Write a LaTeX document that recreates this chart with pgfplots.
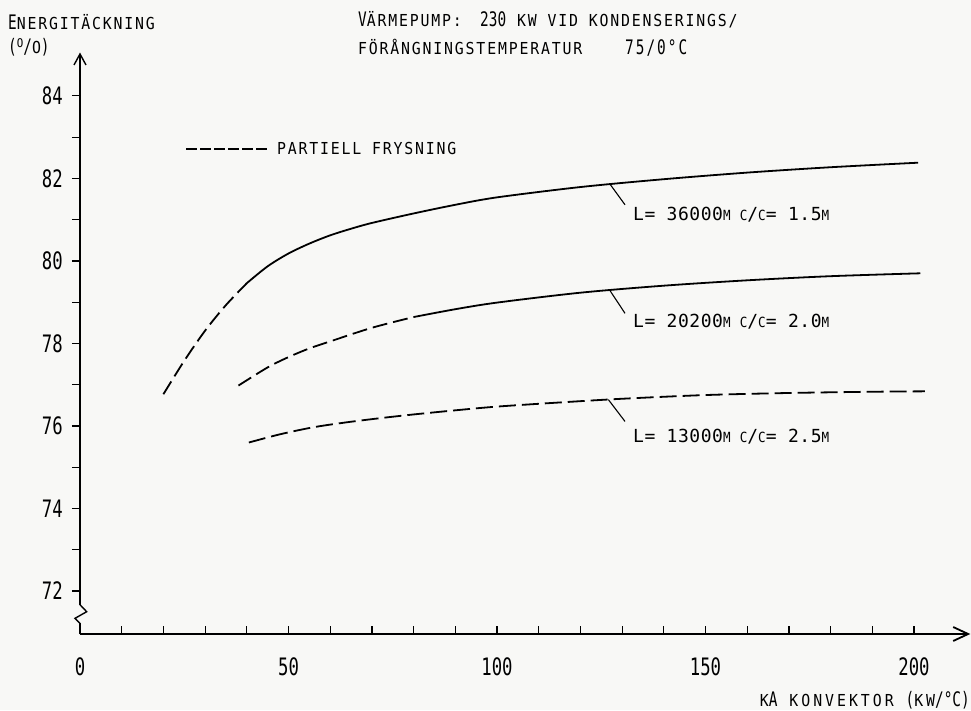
\documentclass[border=0pt]{standalone}
\usepackage{fontspec}
\usepackage{pgfplots}
\pgfplotsset{compat=1.18}
\usetikzlibrary{arrows.meta}
\setmainfont{DejaVu Sans Mono}
\newfontfamily\fA[FakeStretch=0.72]{DejaVu Sans Mono}
\newfontfamily\fS[FakeStretch=0.9,LetterSpace=11]{DejaVu Sans Mono}
\newfontfamily\fW[FakeStretch=0.9,LetterSpace=18]{DejaVu Sans Mono}
\newfontfamily\fL[LetterSpace=3]{DejaVu Sans Mono}
\newcommand\SM[1]{{\fS\fontsize{16.5}{17}\selectfont #1}}
\newcommand\SW[1]{{\fW\fontsize{16.5}{17}\selectfont #1}}
\newcommand\BG[1]{{\fA\fontsize{20}{21}\selectfont #1}}
\newcommand\BGS[1]{{\fA\addfontfeature{LetterSpace=10}\fontsize{20}{21}\selectfont #1}}
\newcommand\LB[1]{{\fL\fontsize{18}{19}\selectfont #1}}
\newcommand\LS[1]{{\fS\fontsize{14}{15}\selectfont #1}}
\definecolor{paper}{RGB}{248,248,246}
\begin{document}
\begin{tikzpicture}
\path[use as bounding box, fill=paper] (0pt,0pt) rectangle (971pt,710pt);
\begin{axis}[
  at={(80pt,76pt)}, anchor=south west,
  x=4.17pt, y=41.27pt,
  xmin=0, xmax=213.5, ymin=70.96, ymax=85.05,
  clip=false,
  axis x line=bottom, axis y line=left,
  x axis line style={line width=1.8pt, -{Straight Barb[length=15pt,width=14pt]}},
  y axis line style={line width=1.4pt, -{Straight Barb[length=11pt,width=12pt]}},
  xtick={0,50,100,150,200},
  minor xtick={10,20,30,40,60,70,80,90,110,120,130,140,160,170,180,190},
  ytick={72,74,76,78,80,82,84},
  minor ytick={73,75,77,79,81,83},
  xtick align=inside, ytick align=outside,
  major tick length=8pt, minor tick length=8pt,
  tick style={line width=1.2pt, black},
  /pgf/number format/assume math mode=true,
  tick label style={font=\fA\fontsize{24}{24}\selectfont},
  xticklabel style={inner sep=0pt, yshift=-23pt},
  yticklabel style={inner sep=0pt, xshift=-9pt},
  legend style={at={(axis cs:25.2,82.72)}, anchor=west, draw=none, fill=none,
    inner sep=0pt, legend cell align=left},
  legend image code/.code={\draw[#1] (0pt,0pt) -- (82pt,0pt);},
]
\addlegendimage{black, line width=1.9pt, dash pattern=on 11pt off 3pt}
\addlegendentry{\hspace{6pt}\SM{PARTIELL FRYSNING}}

% L = 36000 m, c/c = 1.5 m
\addplot[black, line width=1.8pt, dash pattern=on 15pt off 6pt, smooth] coordinates {
 (20,76.77) (25,77.58) (30,78.31) (35,78.93) (40,79.46)};
\addplot[black, line width=1.8pt, smooth] coordinates {
 (40,79.46) (45,79.87) (50,80.18) (55,80.42) (60,80.62) (65,80.78) (70,80.92)
 (80,81.15) (90,81.36) (100,81.54) (120,81.79) (140,81.98) (160,82.14)
 (180,82.27) (201,82.38)};

% L = 20200 m, c/c = 2.0 m
\addplot[black, line width=1.8pt, dash pattern=on 15pt off 6pt, smooth] coordinates {
 (38,76.98) (45,77.42) (50,77.67) (55,77.88) (60,78.05) (70,78.38) (80,78.64)};
\addplot[black, line width=1.8pt, smooth] coordinates {
 (80,78.64) (90,78.83) (100,78.99) (120,79.23) (140,79.40) (160,79.53)
 (180,79.63) (201.5,79.70)};

% L = 13000 m, c/c = 2.5 m
\addplot[black, line width=1.8pt, dash pattern=on 17pt off 6pt, smooth] coordinates {
 (40.5,75.60) (48,75.80) (56,75.97) (64,76.09) (72,76.19) (80,76.28)
 (90,76.38) (100,76.47) (115,76.57) (130,76.66) (150,76.75) (170,76.80)
 (190,76.83) (202.6,76.84)};

% leader lines
\draw[black, line width=1.1pt] (axis cs:127.1,81.86) -- (axis cs:130.7,81.36);
\draw[black, line width=1.1pt] (axis cs:127.1,79.28) -- (axis cs:130.7,78.73);
\draw[black, line width=1.1pt] (axis cs:126.7,76.64) -- (axis cs:130.7,76.11);

\node[anchor=west, inner sep=0pt] at (axis cs:132.6,81.12)
  {\LB{L= 36000}\LS{M C}\LB{/}\LS{C}\LB{= 1.5}\LS{M}};
\node[anchor=west, inner sep=0pt] at (axis cs:132.6,78.54)
  {\LB{L= 20200}\LS{M C}\LB{/}\LS{C}\LB{= 2.0}\LS{M}};
\node[anchor=west, inner sep=0pt] at (axis cs:132.6,75.75)
  {\LB{L= 13000}\LS{M C}\LB{/}\LS{C}\LB{= 2.5}\LS{M}};

% axis break
\draw[paper, line width=3pt] (axis cs:0,71.22) -- (axis cs:0,71.67);
\draw[black, line width=1.4pt] (axis cs:0,71.67) -- (axis cs:1.6,71.5)
  -- (axis cs:-1.2,71.34) -- (axis cs:0,71.22);
\end{axis}

\node[anchor=base west, inner sep=0pt] at (8pt,680pt) {\BG{E}\SM{NERGITÄCKNING}};
\node[anchor=base west, inner sep=0pt] at (8pt,656pt)
  {\BG{(}{\fS\fontsize{12}{12}\selectfont\raisebox{6pt}{O}}\BG{/}\SM{O}\BG{)}};
\node[anchor=base west, inner sep=0pt] at (358pt,683pt) {\BG{V}\SM{ÄRMEPUMP:}};
\node[anchor=base west, inner sep=0pt] at (480pt,683pt) {\BG{230}};
\node[anchor=base west, inner sep=0pt] at (517pt,683pt) {\SM{KW VID KONDENSERINGS/}};
\node[anchor=base west, inner sep=0pt] at (358pt,655pt) {\SM{FÖRÅNGNINGSTEMPERATUR}};
\node[anchor=base west, inner sep=0pt] at (625pt,655pt) {\BGS{75/0°C}};
\node[anchor=base east, inner sep=0pt] at (970pt,4pt)
  {\SW{K}\BG{A}\SW{ KONVEKTOR }\BG{(}\SW{KW}\BG{/°C)}};
\end{tikzpicture}
\end{document}
